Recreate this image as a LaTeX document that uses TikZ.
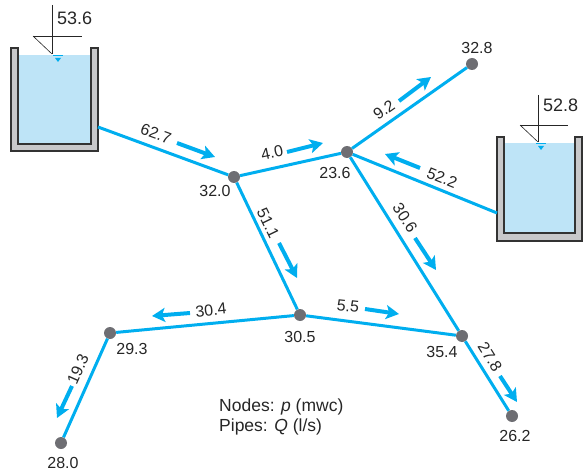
\documentclass[tikz,border=0pt]{standalone}
\usepackage{fontspec}
\setmainfont{Liberation Sans}
\usetikzlibrary{arrows.meta}
\definecolor{pipeblue}{RGB}{0,174,239}
\definecolor{water}{RGB}{190,228,247}
\definecolor{wallgray}{RGB}{200,200,202}
\definecolor{dotgray}{RGB}{110,110,115}

\begin{document}
\begin{tikzpicture}[x=1pt,y=-1pt,
	pipe/.style={pipeblue, line width=3pt},
	flow/.style={pipeblue, line width=4pt, -{Stealth[length=13pt,width=14pt,inset=3pt]}},
	junction/.style={circle, fill=dotgray, inner sep=0pt, minimum size=12pt},
	val/.style={font=\fontsize{16}{19}\selectfont, text=black!85, inner sep=1pt},
	tanklevel/.style={font=\fontsize{18}{21}\selectfont, text=black!85, anchor=west, inner sep=0pt},
	wall/.style={fill=wallgray, draw=black!80, line width=1.2pt},
	gauge/.style={black!85, line width=0.6pt}]
	\useasboundingbox (0,0) rectangle (583,473);

	% reservoirs
	\fill[water] (18,55) rectangle (91,144);
	\draw[wall] (11,48) -- (11,151) -- (98,151) -- (98,48) -- (91,48) -- (91,144) -- (18,144) -- (18,48) -- cycle;
	\draw[gauge] (52,5) -- (52,54);
	\draw[gauge] (33,36) -- (82,36);
	\draw[gauge] (33,36) -- (52,54);
	\draw[pipeblue, line width=1pt] (53,56) -- (63,56);
	\fill[pipeblue] (55,58) -- (61,58) -- (58,62) -- cycle;
	\node[tanklevel] (h1) at (57,18) {53.6};

	\fill[water] (504,143) rectangle (575,233);
	\draw[wall] (497,137) -- (497,241) -- (582,241) -- (582,137) -- (575,137) -- (575,233) -- (504,233) -- (504,137) -- cycle;
	\draw[gauge] (538,95) -- (538,142);
	\draw[gauge] (520,125) -- (568,125);
	\draw[gauge] (520,125) -- (538,142);
	\draw[pipeblue, line width=1pt] (536,144) -- (546,144);
	\fill[pipeblue] (538,146) -- (544,146) -- (541,150) -- cycle;
	\node[tanklevel] (h2) at (543,105) {52.8};

	\coordinate (t1) at (98,127);
	\coordinate (t2) at (497,213);

	% junctions
	\node[junction] (n1) at (234,177) {};
	\node[junction] (n2) at (347,152) {};
	\node[junction] (n3) at (472,64) {};
	\node[junction] (n4) at (300,315) {};
	\node[junction] (n5) at (110,333) {};
	\node[junction] (n6) at (61,443) {};
	\node[junction] (n7) at (462,336) {};
	\node[junction] (n8) at (512,416) {};

	% pipes
	\draw[pipe] (t1) -- (n1);
	\draw[pipe] (n1) -- (n2);
	\draw[pipe] (n2) -- (n3);
	\draw[pipe] (t2) -- (n2);
	\draw[pipe] (n1) -- (n4);
	\draw[pipe] (n2) -- (n7);
	\draw[pipe] (n4) -- (n5);
	\draw[pipe] (n5) -- (n6);
	\draw[pipe] (n4) -- (n7);
	\draw[pipe] (n7) -- (n8);

	% pressures
	\node[val] (p1) at (215,191) {32.0};
	\node[val] (p2) at (335,173) {23.6};
	\node[val] (p3) at (477,48) {32.8};
	\node[val] (p4) at (300,337) {30.5};
	\node[val] (p5) at (132,349) {29.3};
	\node[val] (p6) at (63,463) {28.0};
	\node[val] (p7) at (442,352) {35.4};
	\node[val] (p8) at (515,436) {26.2};

	% flows
	\draw[flow] (177,143) -- (215,157);
	\node[val, rotate=-20] (q1) at (156,134) {62.7};
	\draw[flow] (287,152) -- (323,143);
	\node[val, rotate=12] (q2) at (272,153) {4.0};
	\draw[flow] (399,101) -- (431,77);
	\node[val, rotate=35] (q3) at (384,110) {9.2};
	\draw[flow] (420,168) -- (385,154);
	\node[val, rotate=-22] (q4) at (442,178) {52.2};
	\draw[flow] (279,243) -- (297,278);
	\node[val, rotate=-64] (q5) at (268,223) {51.1};
	\draw[flow] (415,238) -- (436,270);
	\node[val, rotate=-57] (q6) at (405,218) {30.6};
	\draw[flow] (190,313) -- (152,316);
	\node[val, rotate=6] (q7) at (211,310) {30.4};
	\draw[flow] (365,309) -- (399,314);
	\node[val, rotate=-6] (q8) at (348,306) {5.5};
	\draw[flow] (72,386) -- (57,418);
	\node[val, rotate=66] (q9) at (78,369) {19.3};
	\draw[flow] (500,376) -- (517,402);
	\node[val, rotate=-58] (q10) at (490,357) {27.8};

	\node[font=\fontsize{17.5}{20}\selectfont, text=black!85, align=left, anchor=west, inner sep=0pt] (legend) at (219,417)
		{Nodes: \textit{p} (mwc)\\Pipes: \textit{Q} (l/s)};
\end{tikzpicture}
\end{document}
